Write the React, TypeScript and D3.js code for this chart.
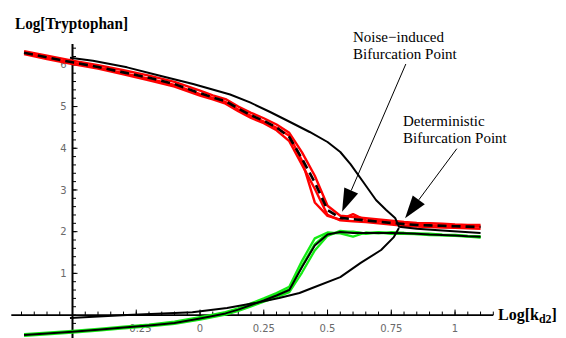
import React, { useEffect, useRef } from 'react';
import * as d3 from 'd3';

const W = 566;
const H = 338;

// shared Log[kd2] grid of the stochastic runs
const stochX = [-0.69, -0.6, -0.5, -0.4, -0.3, -0.2, -0.1, 0, 0.05, 0.1, 0.15, 0.2, 0.25, 0.3, 0.35, 0.4, 0.45, 0.5, 0.55, 0.6, 0.65, 0.7, 0.75, 0.8, 0.85, 0.9, 0.95, 1.0, 1.05, 1.1];

// upper (red) branch: runs and their mean (dashed)
const redMean = [6.29, 6.18, 6.06, 5.95, 5.82, 5.69, 5.54, 5.32, 5.22, 5.13, 4.95, 4.79, 4.66, 4.50, 4.27, 3.75, 3.18, 2.52, 2.33, 2.30, 2.27, 2.24, 2.21, 2.18, 2.16, 2.15, 2.14, 2.13, 2.12, 2.11];
const redRunA = [6.33, 6.22, 6.10, 5.99, 5.87, 5.74, 5.59, 5.38, 5.27, 5.18, 5.00, 4.85, 4.72, 4.57, 4.37, 3.90, 3.34, 2.62, 2.38, 2.35, 2.32, 2.29, 2.26, 2.23, 2.21, 2.20, 2.19, 2.17, 2.16, 2.16];
const redRunB = [6.26, 6.14, 6.02, 5.91, 5.77, 5.63, 5.48, 5.26, 5.17, 5.07, 4.89, 4.73, 4.60, 4.43, 4.17, 3.60, 3.03, 2.40, 2.27, 2.25, 2.23, 2.20, 2.17, 2.14, 2.12, 2.11, 2.10, 2.09, 2.08, 2.07];
const redRunC = [6.30, 6.17, 6.05, 5.94, 5.80, 5.67, 5.52, 5.30, 5.21, 5.11, 4.93, 4.78, 4.64, 4.49, 4.30, 3.70, 2.70, 2.38, 2.29, 2.42, 2.27, 2.26, 2.20, 2.20, 2.17, 2.15, 2.15, 2.13, 2.13, 2.12];

// lower (green) branch: runs and their mean (solid black)
const greenMean = [-0.48, -0.44, -0.40, -0.35, -0.30, -0.25, -0.19, -0.08, -0.02, 0.04, 0.13, 0.24, 0.35, 0.47, 0.60, 1.15, 1.67, 1.93, 1.99, 1.97, 1.97, 1.97, 1.97, 1.96, 1.95, 1.93, 1.92, 1.91, 1.89, 1.88];
const greenRunA = [-0.46, -0.42, -0.38, -0.33, -0.28, -0.23, -0.16, -0.05, 0.01, 0.07, 0.16, 0.28, 0.40, 0.53, 0.68, 1.30, 1.84, 1.98, 1.96, 1.88, 1.98, 1.96, 1.99, 1.97, 1.96, 1.95, 1.93, 1.92, 1.90, 1.89];
const greenRunB = [-0.50, -0.46, -0.42, -0.37, -0.32, -0.27, -0.21, -0.11, -0.05, 0.01, 0.10, 0.21, 0.32, 0.43, 0.55, 1.02, 1.55, 1.90, 2.02, 1.99, 1.96, 1.98, 1.95, 1.95, 1.94, 1.92, 1.91, 1.90, 1.88, 1.86];
const greenRunC = [-0.48, -0.44, -0.40, -0.35, -0.30, -0.24, -0.18, -0.07, -0.01, 0.05, 0.14, 0.25, 0.37, 0.49, 0.62, 1.18, 1.70, 1.96, 1.97, 2.00, 1.95, 1.99, 1.96, 1.97, 1.94, 1.94, 1.92, 1.91, 1.89, 1.87];

// deterministic branches
const detUpperX = [-0.51, -0.42, -0.286, -0.157, -0.027, 0.118, 0.196, 0.275, 0.353, 0.43, 0.5, 0.55, 0.59, 0.64, 0.69, 0.73, 0.765, 0.78, 0.85, 0.95, 1.1];
const detUpperY = [6.17, 6.10, 5.94, 5.74, 5.54, 5.29, 5.10, 4.87, 4.63, 4.39, 4.15, 3.91, 3.62, 3.19, 2.76, 2.52, 2.33, 2.12, 2.07, 2.03, 1.97];
const detLowerX = [-0.51, -0.286, -0.03, 0.106, 0.235, 0.31, 0.39, 0.44, 0.55, 0.63, 0.71, 0.76, 0.78];
const detLowerY = [-0.07, 0.0, 0.07, 0.17, 0.31, 0.41, 0.53, 0.65, 0.91, 1.25, 1.56, 1.87, 2.09];

// axes
const xMajor = [-0.25, 0, 0.25, 0.5, 0.75, 1];
const xLabels = ['\u22120.25', '0', '0.25', '0.5', '0.75', '1'];
const yMajor = [1, 2, 3, 4, 5, 6];
const yLabels = ['1', '2', '3', '4', '5', '6'];

// annotations (text anchor, arrow start, arrow tip) in data units
const notes = [
    { lines: ['Noise\u2212induced', 'Bifurcation Point'], tx: 0.6, ty: 6.55, from: [0.807, 6.02], to: [0.557, 2.48] },
    { lines: ['Deterministic', 'Bifurcation Point'], tx: 0.796, ty: 4.53, from: [1.007, 3.99], to: [0.804, 2.32] },
];

const App = () => {
    const svgRef = useRef(null);

    useEffect(() => {
        const svg = d3.select(svgRef.current);
        svg.selectAll('*').remove();

        const x = d3.scaleLinear().domain([-0.74, 1.15]).range([11.3, 493.3]);
        const y = d3.scaleLinear().domain([-0.55, 6.5]).range([338, 44]);
        const x0 = x(-0.5);
        const y0 = y(0);

        const g = svg.append('g');

        // x axis, ticks point up
        g.append('line').attr('x1', x(-0.74)).attr('x2', x(1.15)).attr('y1', y0).attr('y2', y0)
            .attr('stroke', '#000').attr('stroke-width', 1.8);
        g.selectAll('.xminor').data(d3.range(-0.7, 1.151, 0.05)).enter().append('line')
            .attr('x1', d => x(d)).attr('x2', d => x(d)).attr('y1', y0).attr('y2', y0 - 3.5)
            .attr('stroke', '#000').attr('stroke-width', 1);
        g.selectAll('.xmajor').data(xMajor).enter().append('line')
            .attr('x1', d => x(d)).attr('x2', d => x(d)).attr('y1', y0).attr('y2', y0 - 5.5)
            .attr('stroke', '#000').attr('stroke-width', 1);
        g.selectAll('.xlab').data(xMajor).enter().append('text')
            .attr('x', d => x(d)).attr('y', y0 + 17)
            .attr('text-anchor', 'middle')
            .style('font-family', 'DejaVu Sans').style('font-size', '10px').attr('fill', '#6a6a6a')
            .text((d, i) => xLabels[i]);

        // y axis, ticks point right
        g.append('line').attr('x1', x0).attr('x2', x0).attr('y1', y(6.5)).attr('y2', y(-0.55))
            .attr('stroke', '#000').attr('stroke-width', 2);
        g.selectAll('.yminor').data(d3.range(-0.4, 6.41, 0.2)).enter().append('line')
            .attr('x1', x0).attr('x2', x0 + 3.5).attr('y1', d => y(d)).attr('y2', d => y(d))
            .attr('stroke', '#000').attr('stroke-width', 1);
        g.selectAll('.ymajor').data(yMajor).enter().append('line')
            .attr('x1', x0).attr('x2', x0 + 5).attr('y1', d => y(d)).attr('y2', d => y(d))
            .attr('stroke', '#000').attr('stroke-width', 1);
        g.selectAll('.ylab').data(yMajor).enter().append('text')
            .attr('x', x0 - 6).attr('y', d => y(d) + 3.6)
            .attr('text-anchor', 'end')
            .style('font-family', 'DejaVu Sans').style('font-size', '10px').attr('fill', '#6a6a6a')
            .text((d, i) => yLabels[i]);

        // axis titles
        g.append('text').attr('x', 15).attr('y', 29)
            .style('font-family', 'Liberation Serif').style('font-weight', 'bold').style('font-size', '17px')
            .attr('textLength', 113).attr('lengthAdjust', 'spacingAndGlyphs')
            .text('Log[Tryptophan]');
        const xt = g.append('text').attr('x', 498).attr('y', 320)
            .style('font-family', 'Liberation Serif').style('font-weight', 'bold').style('font-size', '16px');
        xt.append('tspan').text('Log[k');
        xt.append('tspan').attr('dy', 3).style('font-size', '12px').text('d2');
        xt.append('tspan').attr('dy', -3).text(']');

        const line = d3.line().x(d => x(d[0])).y(d => y(d[1]));
        const pts = (xs, ys) => xs.map((v, i) => [v, ys[i]]);

        const draw = (ys, color, width, dash = null, xs = stochX) => {
            const p = g.append('path').datum(pts(xs, ys)).attr('d', line)
                .attr('fill', 'none').attr('stroke', color).attr('stroke-width', width)
                .attr('stroke-linejoin', 'round');
            if (dash) p.attr('stroke-dasharray', dash);
        };

        [redRunA, redRunB, redRunC].forEach(r => draw(r, '#ff0000', 2.4));
        [greenRunA, greenRunB, greenRunC].forEach(r => draw(r, '#14ec14', 2.3));
        draw(greenMean, '#000', 2);
        draw(redMean, '#000', 2.6, '9,5');
        draw(detUpperY, '#000', 2, null, detUpperX);
        draw(detLowerY, '#000', 2, null, detLowerX);

        // annotations
        notes.forEach(n => {
            const t = g.append('text')
                .style('font-family', 'Liberation Serif').style('font-size', '15px').attr('fill', '#000');
            n.lines.forEach((s, i) => {
                t.append('tspan').attr('x', x(n.tx)).attr('y', y(n.ty) + i * 17.3).text(s);
            });
            const [fx, fy] = [x(n.from[0]), y(n.from[1])];
            const [tx, ty] = [x(n.to[0]), y(n.to[1])];
            const len = Math.hypot(tx - fx, ty - fy);
            const ux = (tx - fx) / len;
            const uy = (ty - fy) / len;
            const hl = 23;
            const hw = 7.5;
            const bx = tx - ux * hl;
            const by = ty - uy * hl;
            g.append('line').attr('x1', fx).attr('y1', fy).attr('x2', bx).attr('y2', by)
                .attr('stroke', '#000').attr('stroke-width', 1);
            g.append('polygon')
                .attr('points', [[tx, ty], [bx - uy * hw, by + ux * hw], [bx + uy * hw, by - ux * hw]].map(p => p.join(',')).join(' '))
                .attr('fill', '#000');
        });
    }, []);

    return (
        <svg ref={svgRef} width={W} height={H}
            style={{ position: 'absolute', left: 0, top: 0, background: '#fff' }} />
    );
};

export default App;
